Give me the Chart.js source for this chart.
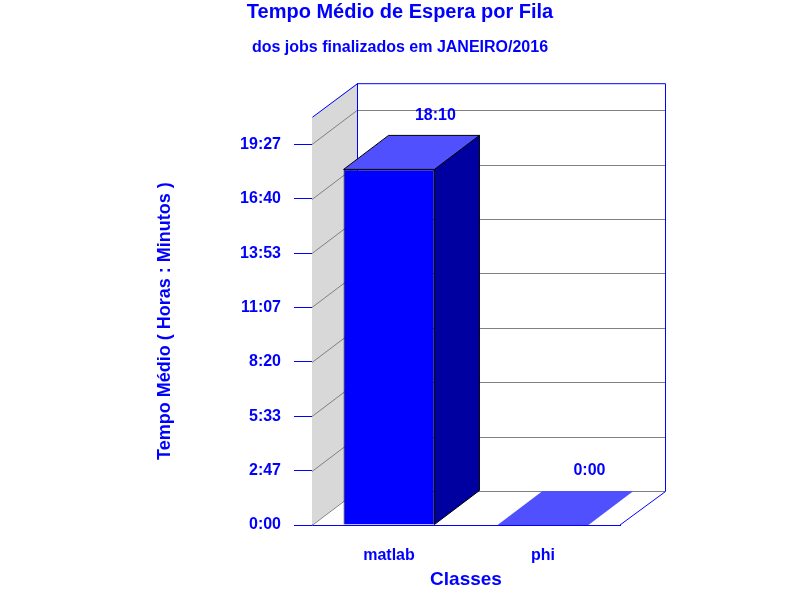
<!DOCTYPE html>
<html>
<head>
<meta charset="utf-8">
<script src="https://cdn.jsdelivr.net/npm/chart.js@4"></script>
<style>
  html, body { margin: 0; padding: 0; background: #fff; }
  #wrap { width: 800px; height: 600px; }
</style>
</head>
<body>
<div id="wrap"><canvas id="c"></canvas></div>
<script>
// Dados (tempo médio em minutos)
const classes = ['matlab', 'phi'];
const tempoMedio = [1090, 0];
const yTicks = [0, 167, 333, 500, 667, 833, 1000, 1167];
const yMax = 1250;

const BLUE = '#0000FF';
const DX = 45, DY = -34;

function fmt(min) {
    const h = Math.floor(min / 60);
    const m = Math.round(min % 60);
    return h + ':' + String(m).padStart(2, '0');
}

const cube3d = {
    id: 'cube3d',
    beforeDatasetsDraw(chart) {
        const { ctx, chartArea: a, scales: { y } } = chart;
        ctx.save();
        // parede lateral
        ctx.fillStyle = '#D8D8D8';
        ctx.beginPath();
        ctx.moveTo(a.left, a.top);
        ctx.lineTo(a.left + DX, a.top + DY);
        ctx.lineTo(a.left + DX, a.bottom + DY);
        ctx.lineTo(a.left, a.bottom);
        ctx.closePath();
        ctx.fill();
        // grade
        ctx.strokeStyle = '#808080';
        ctx.lineWidth = 1;
        yTicks.forEach(v => {
            const py = Math.round(y.getPixelForValue(v)) + 0.5;
            ctx.beginPath();
            ctx.moveTo(a.left, py);
            ctx.lineTo(a.left + DX, py + DY);
            ctx.lineTo(a.right + DX, py + DY);
            ctx.stroke();
        });
        // contornos
        ctx.strokeStyle = BLUE;
        ctx.beginPath();
        ctx.moveTo(a.left + 0.5, a.top);
        ctx.lineTo(a.left + DX + 0.5, a.top + DY + 0.5);
        ctx.lineTo(a.right + DX + 0.5, a.top + DY + 0.5);
        ctx.lineTo(a.right + DX + 0.5, a.bottom + DY + 0.5);
        ctx.lineTo(a.right, a.bottom);
        ctx.moveTo(a.left + DX + 0.5, a.top + DY);
        ctx.lineTo(a.left + DX + 0.5, a.bottom + DY);
        ctx.stroke();
        ctx.restore();
    },
    afterDatasetsDraw(chart) {
        const { ctx } = chart;
        const meta = chart.getDatasetMeta(0);
        ctx.save();
        meta.data.forEach((bar, i) => {
            const p = bar.getProps(['x', 'y', 'base', 'width'], true);
            const x0 = p.x - p.width / 2, x1 = p.x + p.width / 2;
            const top = p.y, base = p.base;
            ctx.strokeStyle = '#000';
            ctx.lineWidth = 1;
            if (base - top > 0) {
                ctx.fillStyle = '#0000A0';
                ctx.beginPath();
                ctx.moveTo(x1, top);
                ctx.lineTo(x1 + DX, top + DY);
                ctx.lineTo(x1 + DX, base + DY);
                ctx.lineTo(x1, base);
                ctx.closePath();
                ctx.fill();
                ctx.stroke();
            }
            ctx.fillStyle = '#5050FF';
            ctx.beginPath();
            ctx.moveTo(x0, top);
            ctx.lineTo(x0 + DX, top + DY);
            ctx.lineTo(x1 + DX, top + DY);
            ctx.lineTo(x1, top);
            ctx.closePath();
            ctx.fill();
            if (base - top > 0) ctx.stroke();
            ctx.fillStyle = BLUE;
            ctx.font = 'bold 16px Arial, "Liberation Sans", sans-serif';
            ctx.textAlign = 'center';
            ctx.textBaseline = 'middle';
            ctx.fillText(fmt(tempoMedio[i]), x1 + 1, top + DY - 20);
        });
        ctx.restore();
    }
};

const font = 'Arial, "Liberation Sans", sans-serif';

new Chart(document.getElementById('c'), {
    type: 'bar',
    data: {
        labels: classes,
        datasets: [{
            data: tempoMedio,
            backgroundColor: BLUE,
            borderColor: '#000',
            borderWidth: 1,
            barPercentage: 0.59,
            categoryPercentage: 1
        }]
    },
    options: {
        responsive: true,
        maintainAspectRatio: false,
        animation: false,
        layout: { padding: 0 },
        plugins: {
            legend: { display: false },
            tooltip: { enabled: false },
            title: {
                display: true,
                text: 'Tempo Médio de Espera por Fila',
                color: BLUE,
                font: { family: font, size: 20, weight: 'bold' },
                padding: { top: 0, bottom: 14 }
            },
            subtitle: {
                display: true,
                text: 'dos jobs finalizados em JANEIRO/2016',
                color: BLUE,
                font: { family: font, size: 16, weight: 'bold' },
                padding: { top: 0, bottom: 60 }
            }
        },
        scales: {
            x: {
                afterFit: s => { s.height = 75; },
                grid: { display: false },
                border: { color: BLUE },
                ticks: { color: BLUE, padding: 13, font: { family: font, size: 16, weight: 'bold' } },
                title: {
                    display: true, text: 'Classes', color: BLUE,
                    font: { family: font, size: 19, weight: 'bold' },
                    padding: { top: 0, bottom: 9 }
                }
            },
            y: {
                min: 0,
                max: yMax,
                afterFit: s => { s.width = 312; },
                afterBuildTicks: s => { s.ticks = yTicks.map(v => ({ value: v })); },
                grid: { drawOnChartArea: false, color: BLUE, tickLength: 18 },
                border: { color: BLUE },
                ticks: {
                    color: BLUE, padding: 13,
                    font: { family: font, size: 16, weight: 'bold' },
                    callback: v => fmt(v)
                },
                title: {
                    display: true, text: 'Tempo Médio ( Horas : Minutos )', color: BLUE,
                    font: { family: font, size: 18, weight: 'bold' },
                    padding: { top: 154, bottom: 0 }
                }
            },
            y2: {
                position: 'right',
                afterFit: s => { s.width = 180; },
                grid: { display: false },
                border: { display: false },
                ticks: { display: false }
            }
        }
    },
    plugins: [cube3d]
});
</script>
</body>
</html>
